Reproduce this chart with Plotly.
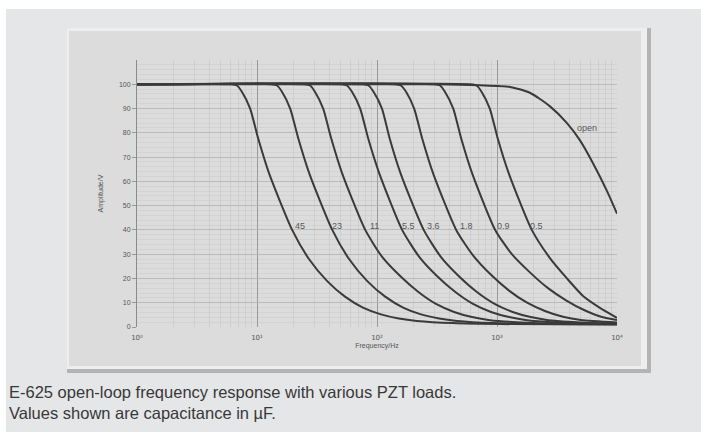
import math
import plotly.graph_objects as go

# ---------------- data ----------------
labels = ["45", "23", "11", "5.5", "3.6", "1.8", "0.9", "0.5", "open"]

f_45 = [1, 6.07, 6.81, 7.46, 8.77, 10.19, 12.68, 19.63, 27.1, 38.3, 54.1, 76.4, 108, 152, 215, 430, 1080, 10000]
a_45 = [100, 100, 99.5, 97, 90, 78, 63, 40, 28, 19, 12.5, 8, 5.2, 3.5, 2.5, 1.6, 1.2, 1.0]

f_23 = [1, 13.1, 14.7, 16.1, 18.9, 22.0, 27.4, 42.4, 58.5, 82.6, 117, 165, 233, 329, 465, 927, 2330, 10000]
a_23 = [100, 100, 99.5, 97, 90, 78, 63, 40, 28, 19, 12.5, 8, 5.2, 3.5, 2.5, 1.6, 1.2, 1.1]

f_11 = [1, 24.7, 27.7, 30.3, 35.6, 41.4, 51.5, 79.8, 110, 156, 220, 310, 439, 619, 875, 1750, 4390, 10000]
a_11 = [100, 100, 99.5, 97, 90, 78, 63, 40, 29, 21, 14.5, 9.5, 6.2, 4.1, 2.8, 1.8, 1.4, 1.2]

f_5_5 = [1, 50.1, 56.2, 61.7, 72.4, 84.1, 105, 162, 224, 316, 447, 631, 891, 1260, 1780, 3550, 10000]
a_5_5 = [100, 100, 99.5, 97, 90, 78, 63, 40, 29, 21, 14.5, 9.5, 6.2, 4.1, 2.8, 1.8, 1.4]

f_3_6 = [1, 75.9, 85.1, 93.3, 110, 127, 158, 245, 339, 479, 676, 955, 1350, 1910, 2690, 5370, 10000]
a_3_6 = [100, 100, 99.5, 97, 90, 78, 63, 40, 29, 21, 14.5, 9.5, 6.2, 4.1, 2.8, 1.8, 1.5]

f_1_8 = [1, 141, 158, 174, 204, 237, 295, 457, 631, 891, 1260, 1780, 2510, 3550, 5010, 10000]
a_1_8 = [100, 100, 99.5, 97, 90, 78, 63, 40, 29.5, 21.5, 15, 10, 6.6, 4.2, 2.9, 1.9]

f_0_9 = [1, 299, 335, 367, 432, 501, 624, 966, 1330, 1880, 2660, 3760, 5310, 7500, 10000]
a_0_9 = [100, 100, 99.5, 97, 90, 78, 63, 40, 30, 22.5, 16, 11, 7, 4.1, 2.9]

f_0_5 = [1, 603, 676, 741, 871, 1010, 1260, 1950, 2750, 3830, 5210, 7210, 10000]
a_0_5 = [100, 100, 99.5, 97, 90, 78, 63, 40, 28.5, 20, 12.8, 7.9, 3.8]

f_open = [1, 316, 721, 1260, 1880, 2750, 3830, 4900, 6310, 8260, 10000]
a_open = [100, 100, 99.6, 99, 96.5, 91, 84, 77, 67.5, 56, 46.7]

series_f = [f_45, f_23, f_11, f_5_5, f_3_6, f_1_8, f_0_9, f_0_5, f_open]
series_a = [a_45, a_23, a_11, a_5_5, a_3_6, a_1_8, a_0_9, a_0_5, a_open]

# curve label positions (frequency in Hz, amplitude in V)
label_f = [22.8, 46.4, 96.2, 183, 293, 552, 1143, 2154, 4467]
label_a = [41.5, 41.5, 41.5, 41.5, 41.5, 41.5, 41.5, 41.5, 82]

x_tickvals = [1, 10, 100, 1000, 10000]
x_ticktext = ["10⁰", "10¹", "10²", "10³", "10⁴"]
y_tickvals = [0, 10, 20, 30, 40, 50, 60, 70, 80, 90, 100]

caption_1 = "E-625 open-loop frequency response with various PZT loads."
caption_2 = "Values shown are capacitance in µF."

# ---------------- layout geometry (pixels) ----------------
W, H = 701, 432
PL, PR, PT, PB = 137, 617, 60, 327   # plot area
FONT = "Liberation Sans, Arial, sans-serif"
TICKFONT = "DejaVu Sans, Liberation Sans, sans-serif"


def px(x):
    return (x - PL) / (PR - PL)


def py(y):
    return (PB - y) / (PB - PT)


fig = go.Figure()

for f, a in zip(series_f, series_a):
    fig.add_trace(go.Scatter(
        x=f, y=a, mode="lines",
        line=dict(color="#3a3a3a", width=2, shape="spline", smoothing=0.6),
        hoverinfo="skip", showlegend=False,
    ))

annotations = []
for t, xf, ya in zip(labels, label_f, label_a):
    annotations.append(dict(
        x=math.log10(xf), y=ya, xref="x", yref="y", text=t, showarrow=False,
        font=dict(family=FONT, size=9, color="#5a5a5a"),
        xanchor="left" if t == "open" else "center", yanchor="middle",
    ))

annotations += [
    dict(x=px(7), y=py(391.5), xref="paper", yref="paper", text=caption_1, showarrow=False,
         xanchor="left", yanchor="middle",
         font=dict(family=FONT, size=16.5, color="#383838")),
    dict(x=px(7), y=py(413), xref="paper", yref="paper", text=caption_2, showarrow=False,
         xanchor="left", yanchor="middle",
         font=dict(family=FONT, size=16.5, color="#383838")),
]

shapes = [
    # page background
    dict(type="rect", xref="paper", yref="paper", x0=px(6), x1=px(W + 2), y0=py(9), y1=py(H + 2),
         fillcolor="#e5e6e8", line=dict(width=0), layer="below"),
    # card shadow / border
    dict(type="rect", xref="paper", yref="paper", x0=px(67), x1=px(651), y0=py(28), y1=py(373),
         fillcolor="#b4b4b4", line=dict(width=0), layer="below"),
    # card highlight
    dict(type="rect", xref="paper", yref="paper", x0=px(67), x1=px(647), y0=py(28), y1=py(369),
         fillcolor="#eeeeee", line=dict(width=0), layer="below"),
    # card body
    dict(type="rect", xref="paper", yref="paper", x0=px(69), x1=px(641), y0=py(31), y1=py(366),
         fillcolor="#dcdcdc", line=dict(width=0), layer="below"),
]

fig.update_layout(
    width=W, height=H,
    margin=dict(l=PL, r=W - PR, t=PT, b=H - PB, pad=0),
    paper_bgcolor="#ffffff",
    plot_bgcolor="#dedede",
    shapes=shapes,
    annotations=annotations,
    showlegend=False,
    font=dict(family=FONT, size=7, color="#555555"),
)

fig.update_xaxes(
    type="log", range=[0, 4],
    tickvals=x_tickvals, ticktext=x_ticktext,
    showgrid=True, gridcolor="#9a9a9a", gridwidth=1,
    minor=dict(dtick="D1", showgrid=True, gridcolor="#c6c6c6", gridwidth=0.6, ticks=""),
    showline=False, zeroline=False, ticks="", ticklabelstandoff=5,
    tickfont=dict(family=TICKFONT, size=7, color="#555555"),
    title=dict(text="Frequency/Hz", font=dict(family=FONT, size=7, color="#555555"), standoff=2),
)

fig.update_yaxes(
    range=[0, 110],
    tickvals=y_tickvals,
    showgrid=True, gridcolor="#b4b4b4", gridwidth=0.8,
    minor=dict(dtick=2, showgrid=True, gridcolor="#cacaca", gridwidth=0.5, ticks=""),
    showline=True, linecolor="#8a8a8a", linewidth=1,
    zeroline=False, ticks="outside", ticklen=4, tickcolor="#9a9a9a",
    tickfont=dict(family=FONT, size=7, color="#555555"),
    title=dict(text="Amplitude/V", font=dict(family=FONT, size=7, color="#555555"), standoff=14),
)

fig.write_html(
    "out.html",
    config={"displayModeBar": False, "staticPlot": True},
    post_script="document.body.style.margin='0';document.body.style.overflow='hidden';",
)
